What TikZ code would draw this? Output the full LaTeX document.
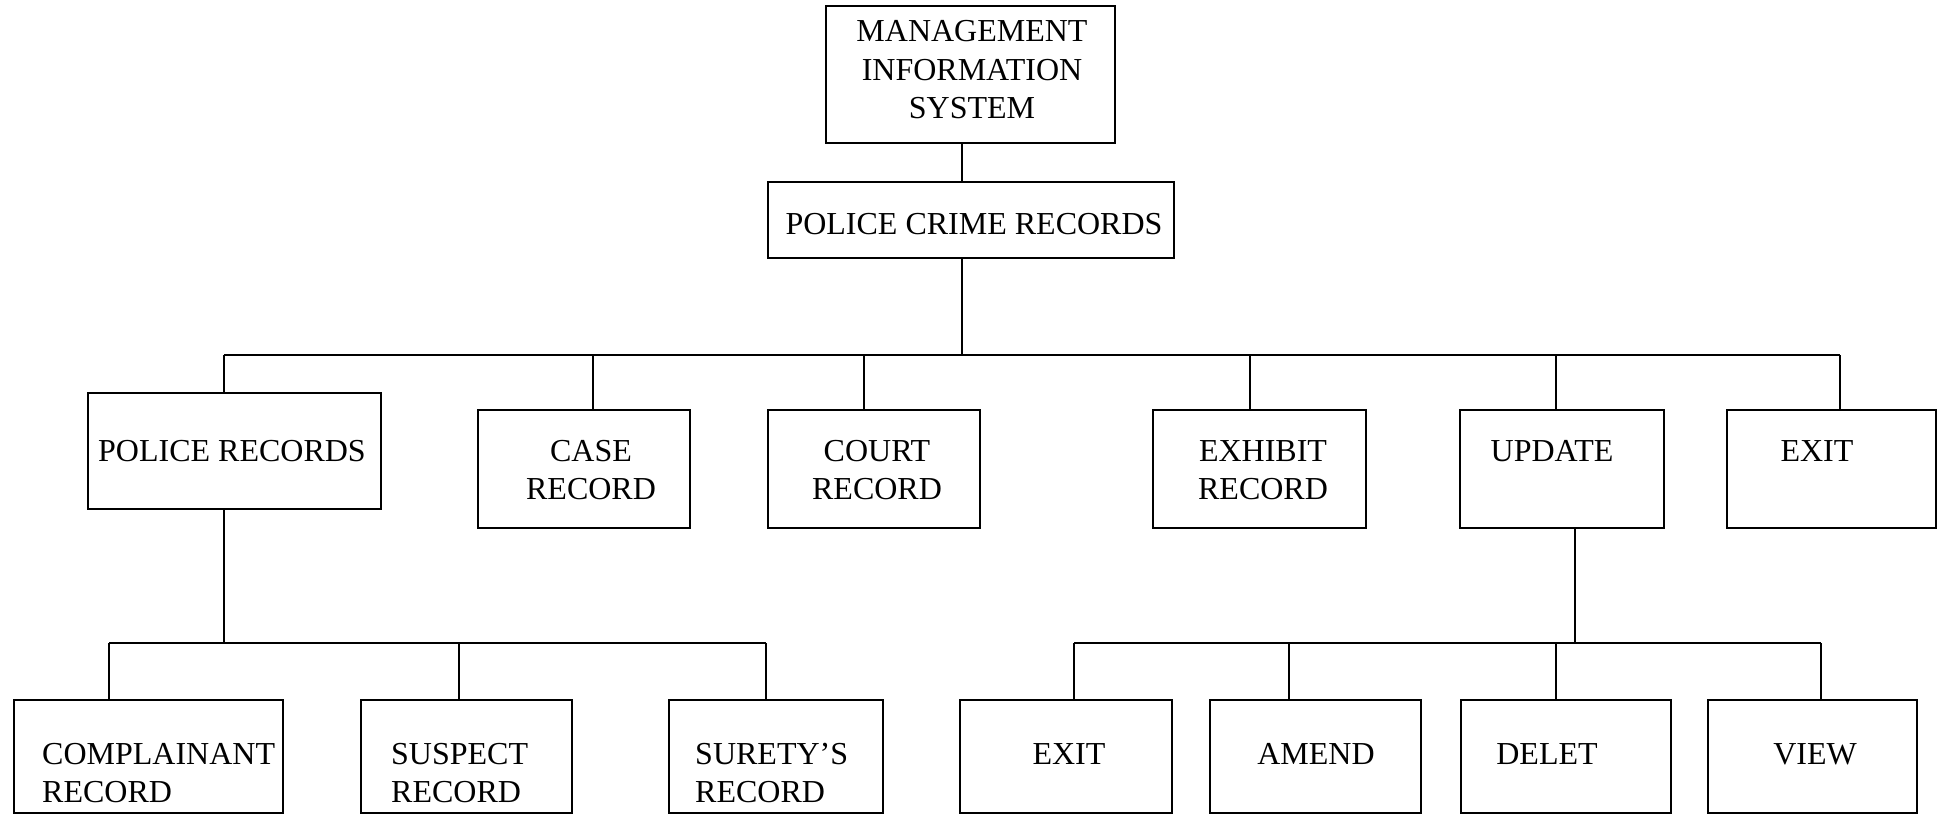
\documentclass[tikz,border=0pt]{standalone}
\usepackage{fontspec}
\setmainfont{Liberation Serif}
\begin{document}
\begin{tikzpicture}[x=1pt,y=-1pt,
  box/.style={draw, line width=1.4pt, inner sep=0pt},
  lbl/.style={inner sep=0pt, align=center, font=\fontsize{32}{38.5}\selectfont},
  lbll/.style={inner sep=0pt, align=left, anchor=west, font=\fontsize{32}{38.5}\selectfont},
  conn/.style={line width=1.4pt}]
\useasboundingbox (0,0) rectangle (1938,816);
% boxes
\node[box, minimum width=289, minimum height=137] (mis) at (970.5,74.5) {};
\node[box, minimum width=406, minimum height=76] (pcr) at (971,220) {};
\node[box, minimum width=293, minimum height=116] (police) at (234.5,451) {};
\node[box, minimum width=212, minimum height=118] (case) at (584,469) {};
\node[box, minimum width=212, minimum height=118] (court) at (874,469) {};
\node[box, minimum width=213, minimum height=118] (exhibit) at (1259.5,469) {};
\node[box, minimum width=204, minimum height=118] (update) at (1562,469) {};
\node[box, minimum width=209, minimum height=118] (exit) at (1831.5,469) {};
\node[box, minimum width=269, minimum height=113] (compl) at (148.5,756.5) {};
\node[box, minimum width=211, minimum height=113] (susp) at (466.5,756.5) {};
\node[box, minimum width=214, minimum height=113] (surety) at (776,756.5) {};
\node[box, minimum width=212, minimum height=113] (exitb) at (1066,756.5) {};
\node[box, minimum width=211, minimum height=113] (amend) at (1315.5,756.5) {};
\node[box, minimum width=210, minimum height=113] (delet) at (1566,756.5) {};
\node[box, minimum width=209, minimum height=113] (view) at (1812.5,756.5) {};
% texts
\node[lbl] (misT) at (972,70) {MANAGEMENT\\INFORMATION\\SYSTEM};
\node[lbl] (pcrT) at (974,224) {POLICE CRIME RECORDS};
\node[lbl] (policeT) at (232,451) {POLICE RECORDS};
\node[lbl] (caseT) at (591,470) {CASE\\RECORD};
\node[lbl] (courtT) at (877,470) {COURT\\RECORD};
\node[lbl] (exhibitT) at (1263,470) {EXHIBIT\\RECORD};
\node[lbl] (updateT) at (1552,451) {UPDATE};
\node[lbl] (exitT) at (1817,451) {EXIT};
\node[lbll] (complT) at (42,773) {COMPLAINANT\\RECORD};
\node[lbll] (suspT) at (391,773) {SUSPECT\\RECORD};
\node[lbll] (suretyT) at (695,773) {SURETY'S\\RECORD};
\node[lbl] (exitbT) at (1069,754) {EXIT};
\node[lbl] (amendT) at (1316,754) {AMEND};
\node[lbl] (deletT) at (1547,754) {DELET};
\node[lbl] (viewT) at (1815,754) {VIEW};
% junction coordinates
\coordinate (t) at (962,355);
\coordinate (bL) at (224,355);
\coordinate (bR) at (1840,355);
\coordinate (dCase) at (593,355);
\coordinate (dCourt) at (864,355);
\coordinate (dExh) at (1250,355);
\coordinate (dUpd) at (1556,355);
\coordinate (sL) at (224,643);
\coordinate (sL1) at (109,643);
\coordinate (sL2) at (459,643);
\coordinate (sL3) at (766,643);
\coordinate (sR) at (1575,643);
\coordinate (sR1) at (1074,643);
\coordinate (sR2) at (1289,643);
\coordinate (sR3) at (1556,643);
\coordinate (sR4) at (1821,643);
% connectors
\draw[conn] (mis.south -| t) -- (pcr.north -| t);
\draw[conn] (pcr.south -| t) -- (t);
\draw[conn] (bL) -- (bR);
\draw[conn] (bL) -- (bL |- police.north);
\draw[conn] (dCase) -- (dCase |- case.north);
\draw[conn] (dCourt) -- (dCourt |- court.north);
\draw[conn] (dExh) -- (dExh |- exhibit.north);
\draw[conn] (dUpd) -- (dUpd |- update.north);
\draw[conn] (bR) -- (bR |- exit.north);
\draw[conn] (sL |- police.south) -- (sL);
\draw[conn] (sL1) -- (sL3);
\draw[conn] (sL1) -- (sL1 |- compl.north);
\draw[conn] (sL2) -- (sL2 |- susp.north);
\draw[conn] (sL3) -- (sL3 |- surety.north);
\draw[conn] (sR |- update.south) -- (sR);
\draw[conn] (sR1) -- (sR4);
\draw[conn] (sR1) -- (sR1 |- exitb.north);
\draw[conn] (sR2) -- (sR2 |- amend.north);
\draw[conn] (sR3) -- (sR3 |- delet.north);
\draw[conn] (sR4) -- (sR4 |- view.north);
\end{tikzpicture}
\end{document}
